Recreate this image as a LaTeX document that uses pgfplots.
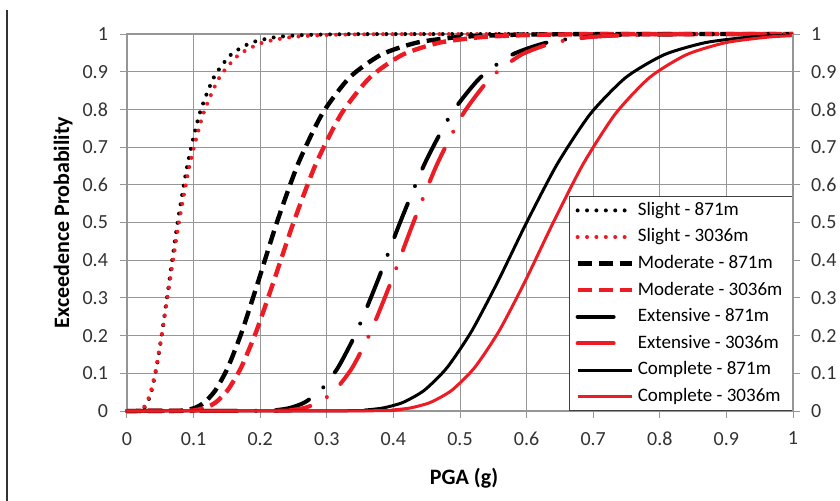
\documentclass[border=0pt]{standalone}
\usepackage{pgfplots}
\pgfplotsset{compat=1.18}
\usepackage{fontspec}
\setmainfont{Carlito}
\usetikzlibrary{calc}
\definecolor{myred}{RGB}{237,28,36}
\definecolor{gridgray}{RGB}{150,150,150}
\definecolor{labgray}{RGB}{50,50,50}
\begin{document}
\begin{tikzpicture}
\pgfplotsset{
  common/.style={
    scale only axis, width=333pt, height=188.5pt,
    xmin=0, xmax=1, ymin=0, ymax=1,
    tick align=outside, major tick length=3.5pt,
    tick style={gridgray, line width=0.5pt},
    axis line style={gridgray, line width=0.6pt},
    tick label style={font=\fontsize{10}{12}\selectfont, text=labgray},
    ytick={0,0.1,0.2,0.3,0.4,0.5,0.6,0.7,0.8,0.9,1},
    yticklabels={0,0.1,0.2,0.3,0.4,0.5,0.6,0.7,0.8,0.9,1},
  },
  slight/.style={line width=2pt, line cap=round, dash pattern=on 0pt off 4.7pt, smooth, tension=0.4},
  moderate/.style={line width=2.2pt, line cap=butt, dash pattern=on 7pt off 3.5pt, smooth, tension=0.4},
  extensive/.style={line width=2pt, line cap=round, dash pattern=on 18pt off 9.5pt on 0pt off 9.5pt, smooth, tension=0.4},
  complete/.style={line width=1.5pt, smooth, tension=0.4},
}
\begin{axis}[common, name=ax,
  xtick={0,0.1,0.2,0.3,0.4,0.5,0.6,0.7,0.8,0.9,1},
  xticklabels={0,0.1,0.2,0.3,0.4,0.5,0.6,0.7,0.8,0.9,1},
  xticklabel style={yshift=-3.5pt},
  yticklabel style={xshift=-2.5pt},
  xtick pos=bottom, ytick pos=left,
  grid=major, grid style={gridgray, line width=0.5pt},
  clip=false,
  ylabel={\textbf{Exceedence Probability}},
  ylabel style={at={(axis description cs:-0.096,0.5)}, anchor=center, font=\fontsize{11}{13}\selectfont},
  legend cell align=left,
  legend image code/.code={\draw[#1] (0pt,0pt) -- (27pt,0pt);},
  legend style={at={(1,0)}, anchor=south east, draw=black!75, line width=0.6pt,
    font=\fontsize{9.5}{11}\selectfont, fill=white,
    nodes={inner ysep=0.5pt, inner xsep=2pt, text height=6.8pt, text depth=2pt},
    row sep=3.5pt, inner xsep=3pt, inner ysep=2pt},
]
\addplot[black, slight] coordinates {(0,0) (0.0180,0.0007) (0.0216,0.0026) (0.0258,0.0082) (0.0309,0.0228) (0.0370,0.0548) (0.0443,0.1151) (0.0530,0.2119) (0.0635,0.3446) (0.0760,0.5) (0.0910,0.6554) (0.1089,0.7881) (0.1304,0.8849) (0.1561,0.9452) (0.1869,0.9772) (0.2238,0.9918) (0.2679,0.9974) (0.3208,0.9993) (0.3840,0.9998) (1,1)};
\addlegendentry{Slight - 871m}
\addplot[myred, slight] coordinates {(0,0) (0.0168,0.0007) (0.0203,0.0026) (0.0247,0.0082) (0.0299,0.0228) (0.0362,0.0548) (0.0439,0.1151) (0.0531,0.2119) (0.0644,0.3446) (0.0780,0.5) (0.0945,0.6554) (0.1145,0.7881) (0.1388,0.8849) (0.1681,0.9452) (0.2037,0.9772) (0.2468,0.9918) (0.2991,0.9974) (0.3624,0.9993) (0.4391,0.9998) (1,1)};
\addlegendentry{Slight - 3036m}
\addplot[black, moderate] coordinates {(0,0) (0.0783,0.0007) (0.0893,0.0026) (0.1019,0.0082) (0.1163,0.0228) (0.1327,0.0548) (0.1514,0.1151) (0.1728,0.2119) (0.1972,0.3446) (0.2250,0.5) (0.2568,0.6554) (0.2930,0.7881) (0.3343,0.8849) (0.3815,0.9452) (0.4353,0.9772) (0.4968,0.9918) (0.5669,0.9974) (0.6468,0.9993) (0.7381,0.9998) (1,1)};
\addlegendentry{Moderate - 871m}
\addplot[myred, moderate] coordinates {(0,0) (0.0912,0.0007) (0.1035,0.0026) (0.1174,0.0082) (0.1332,0.0228) (0.1510,0.0548) (0.1713,0.1151) (0.1943,0.2119) (0.2204,0.3446) (0.2500,0.5) (0.2836,0.6554) (0.3217,0.7881) (0.3648,0.8849) (0.4138,0.9452) (0.4694,0.9772) (0.5324,0.9918) (0.6039,0.9974) (0.6850,0.9993) (0.7770,0.9998) (1,1)};
\addlegendentry{Moderate - 3036m}
\addplot[black, extensive] coordinates {(0,0) (0.2061,0.0007) (0.2246,0.0026) (0.2447,0.0082) (0.2667,0.0228) (0.2907,0.0548) (0.3168,0.1151) (0.3452,0.2119) (0.3762,0.3446) (0.4100,0.5) (0.4468,0.6554) (0.4869,0.7881) (0.5307,0.8849) (0.5783,0.9452) (0.6303,0.9772) (0.6869,0.9918) (0.7486,0.9974) (0.8158,0.9993) (0.8891,0.9998) (1,1)};
\addlegendentry{Extensive - 871m}
\addplot[myred, extensive] coordinates {(0,0) (0.2267,0.0007) (0.2456,0.0026) (0.2661,0.0082) (0.2882,0.0228) (0.3122,0.0548) (0.3383,0.1151) (0.3664,0.2119) (0.3969,0.3446) (0.4300,0.5) (0.4658,0.6554) (0.5046,0.7881) (0.5466,0.8849) (0.5922,0.9452) (0.6415,0.9772) (0.6949,0.9918) (0.7528,0.9974) (0.8155,0.9993) (0.8834,0.9998) (1,1)};
\addlegendentry{Extensive - 3036m}
\addplot[black, complete] coordinates {(0,0) (0.3319,0.0007) (0.3574,0.0026) (0.3849,0.0082) (0.4144,0.0228) (0.4463,0.0548) (0.4806,0.1151) (0.5175,0.2119) (0.5572,0.3446) (0.6000,0.5) (0.6461,0.6554) (0.6957,0.7881) (0.7491,0.8849) (0.8067,0.9452) (0.8686,0.9772) (0.9354,0.9918) (1,0.9971)};
\addlegendentry{Complete - 871m}
\addplot[myred, complete] coordinates {(0,0) (0.3715,0.0007) (0.3976,0.0026) (0.4256,0.0082) (0.4555,0.0228) (0.4876,0.0548) (0.5219,0.1151) (0.5586,0.2119) (0.5979,0.3446) (0.6400,0.5) (0.6850,0.6554) (0.7332,0.7881) (0.7848,0.8849) (0.8401,0.9452) (0.8992,0.9772) (0.9624,0.9918) (1,0.9957)};
\addlegendentry{Complete - 3036m}
\draw[line width=1pt, black!80] (axis description cs:-0.18,1.064) -- (axis description cs:-0.18,-0.25);
\node[anchor=center, font=\fontsize{11}{13}\selectfont\bfseries] at (axis description cs:0.506,-0.178) {PGA (g)};
\end{axis}
\begin{axis}[common,
  axis x line=none, axis y line*=right,
  yticklabel style={xshift=2pt},
]
\end{axis}
\pgfresetboundingbox
\path[use as bounding box] ($(ax.south west)+(-63.5pt,-44.5pt)$) rectangle ($(ax.north east)+(23.5pt,17pt)$);
\end{tikzpicture}
\end{document}
